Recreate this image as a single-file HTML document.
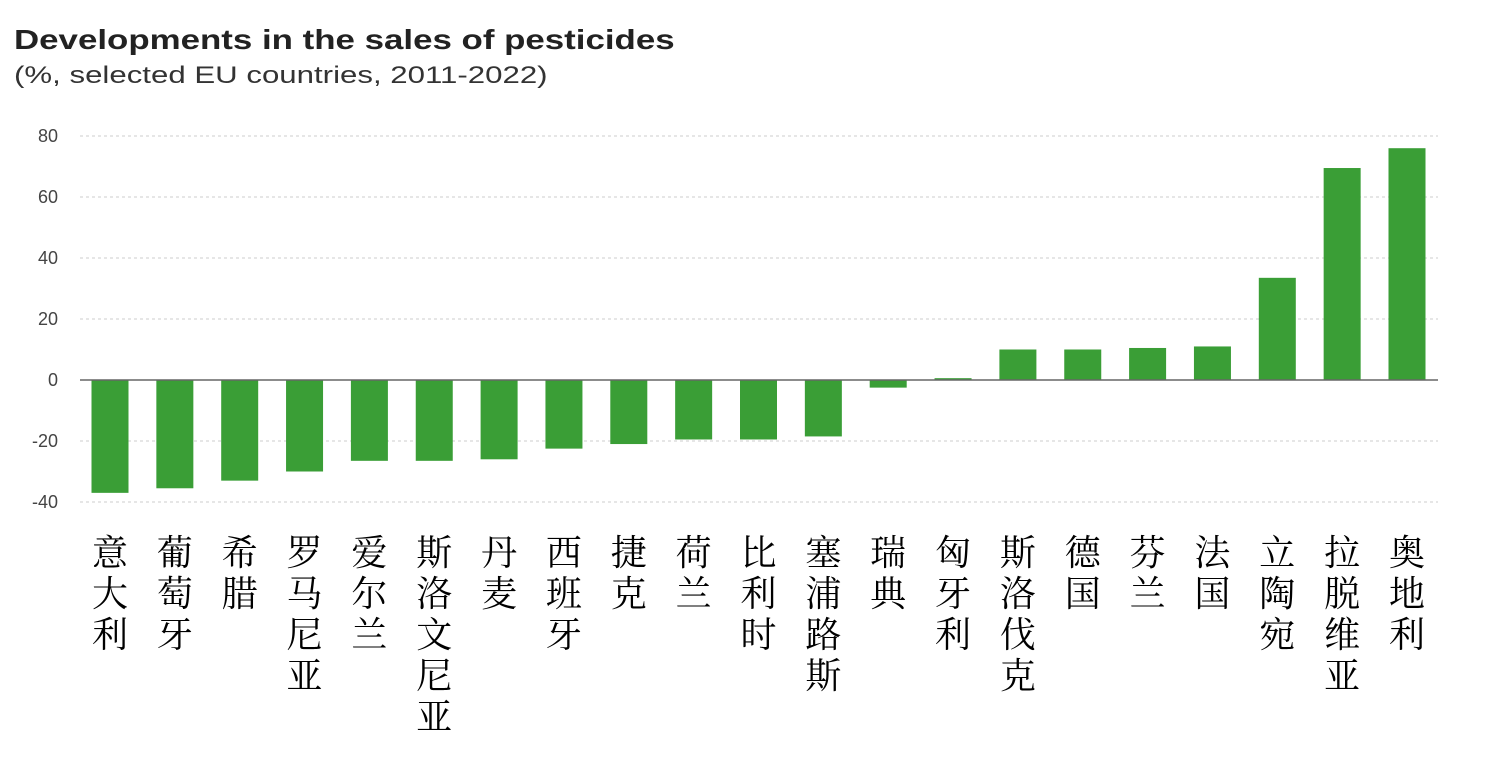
<!DOCTYPE html>
<html><head><meta charset="utf-8"><style>
body{margin:0;background:#fff;width:1486px;height:767px;overflow:hidden;position:relative;font-family:"Liberation Sans",Arial,sans-serif}
.t{position:absolute;left:14px;top:24px;font-size:28px;font-weight:bold;color:#222;transform:scaleX(1.245);transform-origin:0 0;white-space:nowrap}
.s{position:absolute;left:14px;top:62px;font-size:24px;color:#333;transform:scaleX(1.3);transform-origin:0 0;white-space:nowrap}
.lab{position:absolute;top:530px;width:50px;text-align:center;font-family:"Noto Serif CJK SC","WenQuanYi Zen Hei",serif;font-size:36px;line-height:41px;color:#000}
</style></head><body>
<div class="t">Developments in the sales of pesticides</div>
<div class="s">(%, selected EU countries, 2011-2022)</div>
<svg width="1486" height="767" style="position:absolute;left:0;top:0">
<g stroke="#ccc" stroke-dasharray="3,3" stroke-width="1">
<line x1="80" x2="1438" y1="136" y2="136"/><line x1="80" x2="1438" y1="197" y2="197"/><line x1="80" x2="1438" y1="258" y2="258"/><line x1="80" x2="1438" y1="319" y2="319"/><line x1="80" x2="1438" y1="441" y2="441"/><line x1="80" x2="1438" y1="502" y2="502"/>
</g>
<g font-size="18" fill="#444" text-anchor="end" font-family="Liberation Sans,sans-serif">
<text x="58" y="142">80</text><text x="58" y="203">60</text><text x="58" y="264">40</text><text x="58" y="325">20</text><text x="58" y="386">0</text><text x="58" y="447">-20</text><text x="58" y="508">-40</text>
</g>
<g id="bars" fill="#3a9e36"></g>
<line x1="80" x2="1438" y1="380" y2="380" stroke="#666" stroke-width="1.5"/>
</svg>
<div id="labs"></div>
<script>
var v=[-37,-35.5,-33,-30,-26.5,-26.5,-26,-22.5,-21,-19.5,-19.5,-18.5,-2.5,0.6,10,10,10.5,11,33.5,69.5,76];
var n=["意大利","葡萄牙","希腊","罗马尼亚","爱尔兰","斯洛文尼亚","丹麦","西班牙","捷克","荷兰","比利时","塞浦路斯","瑞典","匈牙利","斯洛伐克","德国","芬兰","法国","立陶宛","拉脱维亚","奥地利"];
var g=document.getElementById('bars'),L=document.getElementById('labs'),h='',lh='';
for(var i=0;i<21;i++){var c=110+i*64.85,y0=380,y1=380-v[i]*3.05;
h+='<rect x="'+(c-18.5)+'" width="37" y="'+Math.min(y0,y1)+'" height="'+Math.abs(y1-y0)+'"/>';
lh+='<div class="lab" style="left:'+(c-25)+'px">'+n[i].split('').join('<br>')+'</div>';}
g.innerHTML=h;L.innerHTML=lh;
</script>
</body></html>
